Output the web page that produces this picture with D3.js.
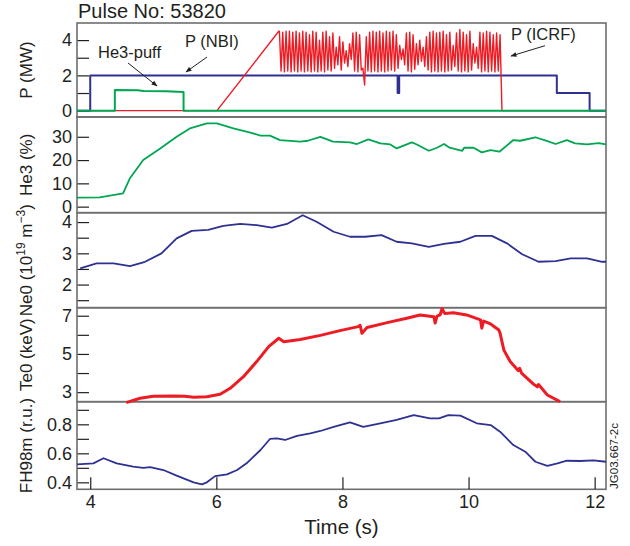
<!DOCTYPE html>
<html>
<head>
<meta charset="utf-8">
<script src="https://cdn.jsdelivr.net/npm/d3@7"></script>
<style>
  body { margin: 0; background: #fff; }
  text { font-family: "Liberation Sans", Arial, Helvetica, sans-serif; fill: #231f20; }
</style>
</head>
<body>
<svg id="chart" width="630" height="546"></svg>
<script>
'use strict';

// ---- data (time in s) ----
const pulseNo = '53820';
const timeTicks = [4, 6, 8, 10, 12];

// P (NBI), MW
const nbi = [[3.79, 0], [4.0, 0], [4.0, 2], [8.875, 2], [8.875, 1.0], [8.9, 1.0], [8.9, 2],
  [11.4, 2], [11.4, 1], [11.92, 1], [11.92, 0], [12.18, 0]];

// He3 puff, MW
const puff = [[3.79, 0], [4.39, 0], [4.39, 1.17], [4.75, 1.16], [4.85, 1.12], [5.2, 1.1],
  [5.48, 1.06], [5.48, 0], [12.18, 0]];

// P (ICRF), MW: ramp, modulated part (one peak + one trough per cycle), switch off
const icrfRamp = [[3.79, 0], [6.01, 0], [6.99, 4.5]];
const icrfStart = 7.0;
const icrfSampleDt = 0.0265;
const icrfPeaks = [4.5, 4.45, 4.5, 4.5, 4.45, 4.5, 4.4, 4.5, 4.45, 4.3, 4.5, 4.45, 4.0, 4.45, 4.5,
  4.2, 4.4, 3.6, 4.2, 3.9, 3.4, 3.8, 4.4, 4.45, 4.3, 2.4, 4.2, 4.45, 4.5, 4.45, 4.5, 4.4, 4.5,
  4.45, 4.5, 4.3, 3.7, 3.5, 4.4, 4.45, 4.3, 3.8, 4.0, 3.6, 4.2, 4.45, 4.5, 4.4, 4.45, 4.5, 4.3,
  4.45, 3.7, 4.4, 4.6, 4.45, 4.3, 4.5, 3.8, 3.6, 4.45, 4.4, 4.5, 4.45, 4.3, 4.4];
const icrfTroughs = [2.25, 2.2, 2.25, 2.2, 2.25, 2.2, 2.25, 2.2, 2.25, 2.2, 2.25, 2.2, 2.25, 2.2,
  2.3, 2.25, 2.4, 2.6, 2.3, 2.7, 2.5, 2.9, 2.25, 2.2, 2.3, 1.45, 2.25, 2.2, 2.25, 2.2, 2.25, 2.2,
  2.25, 2.3, 2.25, 2.4, 2.9, 2.6, 2.25, 2.2, 2.35, 2.6, 2.8, 2.5, 2.3, 2.2, 2.25, 2.2, 2.25, 2.2,
  2.25, 2.3, 2.5, 2.25, 2.2, 2.25, 2.2, 2.3, 2.7, 2.4, 2.2, 2.25, 2.2, 2.25, 2.2, 2.25];
const icrfOff = [[10.5, 4.3], [10.53, 0], [12.18, 0]];

// He3 concentration, %
const he3 = [[3.79, 3.9], [4.15, 4.0], [4.52, 5.7], [4.63, 12.2], [4.84, 20], [5.11, 25],
  [5.37, 30], [5.58, 33.6], [5.85, 35.8], [6.01, 35.8], [6.27, 33.6], [6.54, 31.8], [6.7, 30.5],
  [6.85, 30.5], [7.01, 28.6], [7.33, 27.9], [7.45, 28.3], [7.65, 30], [7.85, 27.9], [8.12, 27.6],
  [8.23, 26.9], [8.41, 28.9], [8.6, 27.2], [8.76, 26.7], [8.86, 25], [9.1, 27.6], [9.18, 26.7],
  [9.37, 24], [9.5, 25.3], [9.61, 26.9], [9.7, 25.3], [9.9, 24], [9.93, 25.3], [10.08, 25.3],
  [10.21, 23.3], [10.35, 24.3], [10.49, 23.6], [10.71, 28.6], [10.82, 28.3], [11.06, 29.8],
  [11.25, 28.1], [11.38, 26.9], [11.56, 28.6], [11.69, 27.2], [11.88, 26.7], [12.06, 27.3],
  [12.18, 26.7]];

// Ne0, 10^19 m^-3
const ne0 = [[3.84, 2.52], [4.1, 2.68], [4.37, 2.68], [4.63, 2.59], [4.87, 2.73], [5.13, 3.0],
  [5.37, 3.48], [5.61, 3.72], [5.87, 3.75], [6.11, 3.88], [6.38, 3.94], [6.64, 3.9], [6.88, 3.82],
  [7.12, 3.94], [7.37, 4.22], [7.59, 4.01], [7.86, 3.69], [8.12, 3.53], [8.36, 3.53], [8.62, 3.58],
  [8.86, 3.37], [9.1, 3.32], [9.37, 3.21], [9.61, 3.3], [9.87, 3.37], [10.11, 3.56], [10.37, 3.56],
  [10.61, 3.32], [10.85, 2.97], [11.11, 2.73], [11.38, 2.75], [11.62, 2.84], [11.88, 2.84],
  [12.12, 2.73], [12.18, 2.73]];

// Te0, keV
const te0 = [[4.57, 2.45], [4.79, 2.68], [5.0, 2.79], [5.32, 2.8], [5.5, 2.78], [5.64, 2.73],
  [5.85, 2.76], [6.06, 2.89], [6.22, 3.2], [6.43, 3.81], [6.64, 4.6], [6.83, 5.38], [6.99, 5.82],
  [7.07, 5.64], [7.33, 5.76], [7.65, 5.97], [7.96, 6.22], [8.25, 6.43], [8.28, 6.5], [8.31, 6.08],
  [8.39, 6.38], [8.71, 6.64], [9.02, 6.87], [9.23, 7.04], [9.45, 6.95], [9.47, 6.62], [9.5, 6.98],
  [9.55, 7.05], [9.58, 7.38], [9.62, 7.12], [9.76, 7.16], [9.97, 7.04], [10.19, 6.78], [10.21, 6.35],
  [10.24, 6.72], [10.35, 6.57], [10.48, 6.25], [10.5, 6.08], [10.56, 5.21], [10.66, 4.6],
  [10.79, 4.12], [10.81, 4.25], [10.84, 4.0], [11.03, 3.42], [11.09, 3.28], [11.11, 3.4],
  [11.25, 2.85], [11.45, 2.5]];

// FH98m, r.u.
const fh98 = [[3.79, 0.524], [4.05, 0.531], [4.21, 0.566], [4.42, 0.531], [4.68, 0.508],
  [4.84, 0.5], [4.95, 0.505], [5.16, 0.485], [5.37, 0.446], [5.64, 0.4], [5.77, 0.386],
  [5.85, 0.4], [5.98, 0.443], [6.17, 0.455], [6.33, 0.485], [6.48, 0.531], [6.7, 0.623],
  [6.85, 0.699], [6.96, 0.703], [7.09, 0.692], [7.28, 0.721], [7.49, 0.738], [7.65, 0.754],
  [7.86, 0.783], [8.12, 0.814], [8.33, 0.783], [8.6, 0.807], [8.86, 0.83], [9.13, 0.864],
  [9.39, 0.841], [9.53, 0.841], [9.68, 0.864], [9.87, 0.86], [10.13, 0.807], [10.35, 0.795],
  [10.5, 0.749], [10.71, 0.657], [10.9, 0.611], [11.06, 0.542], [11.25, 0.514], [11.41, 0.531],
  [11.56, 0.549], [11.77, 0.547], [11.98, 0.552], [12.18, 0.542]];

// ---- layout ----
const BLUE = '#2e3192';
const GREEN = '#00a651';
const RED = '#ed1c24';
const FRAME = '#6d6e71';
const INK = '#231f20';

const x = d3.scaleLinear().domain([3.79, 12.18]).range([77, 606]);

const panels = [
  { top: 23, bottom: 117, domain: [-0.36, 4.97], major: [0, 2, 4], minor: [1, 3], fmt: d3.format('d') },
  { top: 117, bottom: 212.7, domain: [-2.6, 38.5], major: [0, 10, 20, 30], minor: [], fmt: d3.format('d') },
  { top: 212.7, bottom: 307.7, domain: [1.26, 4.3], major: [2, 3, 4], minor: [1.5, 2.5, 3.5], fmt: d3.format('d') },
  { top: 307.7, bottom: 401.7, domain: [2.5, 7.42], major: [3, 5, 7], minor: [4, 6], fmt: d3.format('d') },
  { top: 401.7, bottom: 489.3, domain: [0.352, 0.956], major: [0.4, 0.6, 0.8], minor: [0.5, 0.7, 0.9], fmt: d3.format('.1f') }
];
panels.forEach(function(p) {
  p.y = d3.scaleLinear().domain(p.domain).range([p.bottom, p.top]);
});

let svg = d3.select('#chart');

// arrow head for annotations
svg.append('defs').append('marker')
    .attr('id', 'head')
    .attr('viewBox', '0 0 10 10')
    .attr('refX', 9).attr('refY', 5)
    .attr('markerWidth', 7).attr('markerHeight', 6)
    .attr('orient', 'auto')
  .append('path')
    .attr('d', 'M0,1 L10,5 L0,9 Z')
    .attr('fill', INK);

// panel frames and y axes
panels.forEach(function(p) {
  let majorSet = new Set(p.major);
  let axis = d3.axisLeft(p.y)
      .tickValues(p.major.concat(p.minor))
      .tickSizeInner(-12)
      .tickSizeOuter(0)
      .tickPadding(5)
      .tickFormat(function(d) { return majorSet.has(d) ? p.fmt(d) : ''; });

  let g = svg.append('g')
      .attr('transform', 'translate(' + x.range()[0] + ',0)')
      .call(axis);
  g.select('.domain').remove();
  g.selectAll('.tick line').attr('stroke', INK).attr('stroke-width', 1.2);
  g.selectAll('.tick text')
      .style('font-size', '18px')
      .style('font-family', '"Liberation Sans", Arial, sans-serif')
      .attr('fill', INK);

  svg.append('rect')
      .attr('x', x.range()[0])
      .attr('y', p.top)
      .attr('width', x.range()[1] - x.range()[0])
      .attr('height', p.bottom - p.top)
      .attr('fill', 'none')
      .attr('stroke', FRAME)
      .attr('stroke-width', 1.6);
});

// time axis at the bottom
let xAxis = d3.axisBottom(x)
    .tickValues(timeTicks)
    .tickSizeInner(-12)
    .tickSizeOuter(0)
    .tickPadding(6)
    .tickFormat(d3.format('d'));
let gx = svg.append('g')
    .attr('transform', 'translate(0,' + panels[4].bottom + ')')
    .call(xAxis);
gx.select('.domain').remove();
gx.selectAll('.tick line').attr('stroke', INK).attr('stroke-width', 1.2);
gx.selectAll('.tick text')
    .style('font-size', '18px')
    .style('font-family', '"Liberation Sans", Arial, sans-serif')
    .attr('fill', INK);

function drawLine(panel, data, color, width) {
  let line = d3.line()
      .x(function(d) { return x(d[0]); })
      .y(function(d) { return panel.y(d[1]); });
  svg.append('path')
      .datum(data)
      .attr('d', line)
      .attr('fill', 'none')
      .attr('stroke', color)
      .attr('stroke-width', width)
      .attr('stroke-linejoin', 'round');
}

// ICRF trace: ramp + one peak/trough pair per cycle + switch off
let icrf = icrfRamp.slice();
for (let k = 0; k < icrfPeaks.length; k++) {
  let t = icrfStart + 2 * k * icrfSampleDt;
  icrf.push([t, icrfPeaks[k]]);
  icrf.push([t + icrfSampleDt, icrfTroughs[k]]);
}
icrf = icrf.concat(icrfOff);

drawLine(panels[0], nbi, BLUE, 2);
drawLine(panels[0], icrf, RED, 1.4);
drawLine(panels[0], puff, GREEN, 2);
drawLine(panels[1], he3, GREEN, 1.8);
drawLine(panels[2], ne0, BLUE, 1.8);
drawLine(panels[3], te0, RED, 3);
drawLine(panels[4], fh98, BLUE, 1.8);

// annotations in the power panel
let notes = [
  { text: 'He3-puff', tx: 98, ty: 58, from: [128, 63], to: [157, 86] },
  { text: 'P (NBI)', tx: 185, ty: 47, from: [207, 57], to: [186, 72] },
  { text: 'P (ICRF)', tx: 511, ty: 40, from: [545, 45.7], to: [511, 56] }
];
notes.forEach(function(n) {
  svg.append('text')
      .attr('x', n.tx).attr('y', n.ty)
      .style('font-size', '16.5px')
      .text(n.text);
  svg.append('line')
      .attr('x1', n.from[0]).attr('y1', n.from[1])
      .attr('x2', n.to[0]).attr('y2', n.to[1])
      .attr('stroke', INK)
      .attr('stroke-width', 1)
      .attr('marker-end', 'url(#head)');
});

// title
svg.append('text')
    .attr('x', 78).attr('y', 18)
    .style('font-size', '20px')
    .text('Pulse No: ' + pulseNo);

// x label
svg.append('text')
    .attr('x', (x.range()[0] + x.range()[1]) / 2)
    .attr('y', 534)
    .attr('text-anchor', 'middle')
    .style('font-size', '20.5px')
    .text('Time (s)');

// y labels, rotated and centred on each panel
let yLabels = ['P (MW)', 'He3 (%)', null, 'Te0 (keV)', 'FH98m (r.u.)'];
panels.forEach(function(p, i) {
  let cy = (p.top + p.bottom) / 2;
  let t = svg.append('text')
      .attr('transform', 'translate(32,' + cy + ') rotate(-90)')
      .attr('text-anchor', 'middle')
      .style('font-size', '17px');
  if (yLabels[i]) {
    t.text(yLabels[i]);
  } else {
    // Ne0 (10^19 m^-3) with superscripts
    t.append('tspan').text('Ne0 (10');
    t.append('tspan').attr('dy', -7).style('font-size', '12px').text('19');
    t.append('tspan').attr('dy', 7).text(' m');
    t.append('tspan').attr('dy', -7).style('font-size', '12px').text('\u22123');
    t.append('tspan').attr('dy', 7).text(')');
  }
});

// figure reference on the right edge
svg.append('text')
    .attr('transform', 'translate(618,456) rotate(-90)')
    .attr('text-anchor', 'middle')
    .style('font-size', '11.5px')
    .text('JG03.667-2c');
</script>
</body>
</html>
